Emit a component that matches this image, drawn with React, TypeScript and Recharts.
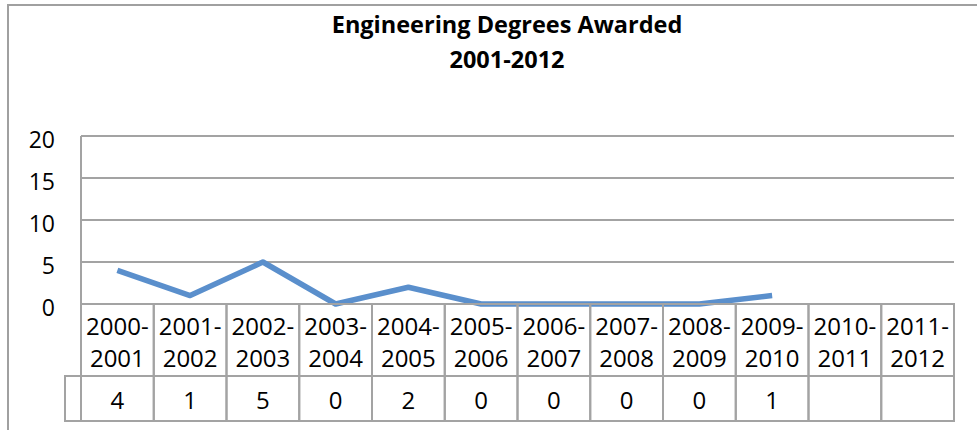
import React from 'react'
import { LineChart, Line, XAxis, YAxis, CartesianGrid } from 'recharts'

// academic years (x categories) and degrees awarded
const periods = [
  '2000-2001', '2001-2002', '2002-2003', '2003-2004', '2004-2005', '2005-2006',
  '2006-2007', '2007-2008', '2008-2009', '2009-2010', '2010-2011', '2011-2012',
]
const degrees: (number | null)[] = [4, 1, 5, 0, 2, 0, 0, 0, 0, 1, null, null]
const yTicks = [0, 5, 10, 15, 20]
const titleLines = ['Engineering Degrees Awarded', '2001-2012']

const data = periods.map((period, i) => ({ period, degrees: degrees[i] }))

const W = 977
const H = 430
const PLOT_LEFT = 81
const PLOT_RIGHT = 954
const PLOT_TOP = 136
const PLOT_BOTTOM = 304
const HEAD_H = 72
const VAL_H = 45
const COL_W = (PLOT_RIGHT - PLOT_LEFT) / periods.length
const GRID = '#a3a3a3'
const FONT = '"Open Sans", sans-serif'

function YTick(props: any) {
  const { y, payload } = props
  return (
    <text x={55} y={y + 12} textAnchor="end" fontSize={23} fontFamily={FONT} fill="#000">
      {payload.value}
    </text>
  )
}

// data table under the plot, one column per category tick
function TableTick(props: any) {
  const { x, index, payload } = props
  const left = x - COL_W / 2
  const [a, b] = String(payload.value).split('-')
  const v = degrees[index]
  return (
    <g>
      <rect x={left} y={PLOT_BOTTOM} width={COL_W} height={HEAD_H} fill="none" stroke={GRID} strokeWidth={2} />
      <rect x={left} y={PLOT_BOTTOM + HEAD_H} width={COL_W} height={VAL_H} fill="none" stroke={GRID} strokeWidth={2} />
      {index === 0 && (
        <rect x={65} y={PLOT_BOTTOM + HEAD_H} width={PLOT_LEFT - 65} height={VAL_H} fill="none" stroke={GRID} strokeWidth={2} />
      )}
      <text x={x} y={PLOT_BOTTOM + 31} textAnchor="middle" fontSize={24} fontFamily={FONT} fill="#000">
        {a}-
      </text>
      <text x={x} y={PLOT_BOTTOM + 63} textAnchor="middle" fontSize={24} fontFamily={FONT} fill="#000">
        {b}
      </text>
      {v !== null && (
        <text x={x} y={PLOT_BOTTOM + HEAD_H + 33} textAnchor="middle" fontSize={24} fontFamily={FONT} fill="#000">
          {v}
        </text>
      )}
    </g>
  )
}

export default function App() {
  return (
    <div style={{ position: 'absolute', left: 0, top: 0, width: W, height: H, overflow: 'hidden', background: '#fff' }}>
      <div
        style={{
          position: 'absolute', left: 7, top: 4, width: W + 50, height: H + 50,
          border: '2px solid #a0a0a0', boxSizing: 'border-box',
        }}
      />
      <div style={{ position: 'absolute', left: 0, top: 0 }}>
        <LineChart
          width={W}
          height={H}
          data={data}
          margin={{ top: PLOT_TOP, right: W - PLOT_RIGHT, left: 0, bottom: H - PLOT_BOTTOM - HEAD_H - VAL_H }}
        >
          <text x={507} y={33} textAnchor="middle" fontSize={23.5} fontWeight="bold" fontFamily={FONT} fill="#000">
            {titleLines[0]}
          </text>
          <text x={507} y={68} textAnchor="middle" fontSize={23.5} fontWeight="bold" fontFamily={FONT} fill="#000">
            {titleLines[1]}
          </text>
          <CartesianGrid vertical={false} stroke={GRID} strokeWidth={2} />
          <XAxis
            dataKey="period"
            scale="band"
            interval={0}
            height={HEAD_H + VAL_H}
            axisLine={false}
            tickLine={false}
            tick={<TableTick />}
          />
          <YAxis
            width={PLOT_LEFT}
            domain={[0, 20]}
            ticks={yTicks}
            interval={0}
            axisLine={{ stroke: GRID, strokeWidth: 2 }}
            tickLine={false}
            tick={<YTick />}
          />
          <Line
            type="linear"
            dataKey="degrees"
            stroke="#5a8fcc"
            strokeWidth={5.5}
            strokeLinejoin="round"
            dot={false}
            activeDot={false}
            isAnimationActive={false}
          />
        </LineChart>
      </div>
    </div>
  )
}
